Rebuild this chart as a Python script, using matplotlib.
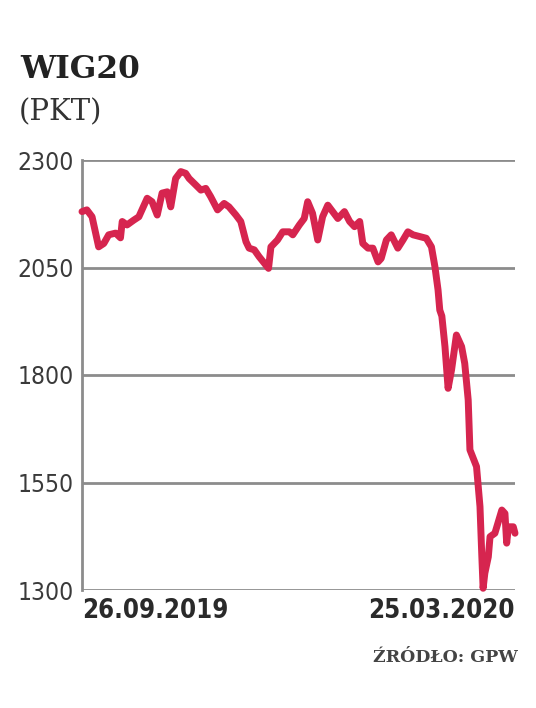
import matplotlib
matplotlib.use("Agg")
import matplotlib.pyplot as plt
from matplotlib import font_manager as fm
from matplotlib.textpath import TextPath

# trading-day index (from 26.09.2019) and WIG20 close
day = [0.1, 1.5, 3.0, 4.9, 6.4, 7.8, 9.8, 11.2, 11.7, 13.1, 15.0, 16.5, 18.9, 20.3,
       21.8, 23.2, 24.7, 25.7, 27.1, 28.6, 30.0, 31.0, 32.9, 34.4, 35.8, 37.2, 39.2,
       41.1, 42.5, 44.5, 45.9, 47.4, 48.3, 49.8, 51.2, 52.7, 53.9, 54.6, 56.5, 58.0,
       59.9, 60.9, 62.8, 64.2, 65.2, 66.6, 68.1, 69.5, 71.0, 72.4, 73.9, 75.8, 77.3,
       78.7, 80.2, 81.1, 82.6, 84.0, 85.5, 86.4, 87.9, 89.3, 91.2, 92.7, 94.1, 95.6,
       97.5, 99.4, 100.9, 101.9, 102.8, 103.3, 103.9, 104.8, 105.7, 106.7, 108.1,
       109.6, 110.5, 111.5, 112.0, 113.9, 114.9, 115.4, 115.8, 116.3, 117.3, 117.8,
       119.2, 120.2, 121.2, 122.1, 122.6, 123.1, 124.5, 125.0]
wig20 = [2180, 2184, 2168, 2098, 2106, 2126, 2130, 2119, 2157, 2149, 2160, 2168, 2211, 2203,
         2172, 2223, 2226, 2191, 2257, 2273, 2269, 2257, 2242, 2230, 2234, 2215, 2184,
         2199, 2191, 2172, 2157, 2110, 2095, 2091, 2075, 2060, 2048, 2098, 2114, 2133,
         2133, 2126, 2149, 2164, 2203, 2176, 2114, 2168, 2195, 2180, 2164, 2180, 2157,
         2145, 2157, 2106, 2095, 2095, 2063, 2071, 2114, 2126, 2095, 2114, 2133, 2126,
         2122, 2118, 2098, 2052, 1998, 1951, 1937, 1866, 1769, 1812, 1893,
         1866, 1827, 1742, 1626, 1587, 1494, 1385, 1304, 1339, 1377, 1424,
         1432, 1459, 1486, 1478, 1409, 1447, 1447, 1432]

y_ticks = [1300, 1550, 1800, 2050, 2300]
date_labels = ["26.09.2019", "25.03.2020"]
title = "WIG20"
unit = "(PKT)"
source = "ŹRÓDŁO: GPW"

LINE = "#d6254f"
GRID = "#8c8c8c"
TXT = "#3a3a3a"
SERIF = ["DejaVu Serif"]
DPI = 100


def pick_narrow(bold):
    """Find an installed condensed/narrow sans face; return FontProperties or None."""
    want_w = 700 if bold else 400
    best = None
    for f in fm.fontManager.ttflist:
        nm = f.name
        narrow = ("Narrow" in nm or "Condensed" in nm or
                  str(f.stretch) in ("condensed", "semi-condensed", "extra-condensed"))
        if not narrow or "Mono" in nm or "Serif" in nm or f.style != "normal":
            continue
        try:
            w = int(f.weight)
        except (TypeError, ValueError):
            w = 700 if "bold" in str(f.weight).lower() else 400
        score = abs(w - want_w)
        if best is None or score < best[0]:
            best = (score, f.fname)
    if best is None:
        return None
    return fm.FontProperties(fname=best[1])


def fit_size(text, fp, target_w_px, target_h_px):
    """Font size (pt) so that the text ink is about target width, capped by height."""
    ext = TextPath((0, 0), text, size=100, prop=fp).get_extents()
    px_per_unit = DPI / 72.0 / 100.0
    s_w = target_w_px / (ext.width * px_per_unit)
    s_h = target_h_px / (ext.height * px_per_unit)
    return min(s_w * 1.04, s_h)


reg = pick_narrow(False)
bld = pick_narrow(True)
ytick_fp = reg if reg is not None else fm.FontProperties(family=["Roboto", "DejaVu Sans"])
xtick_fp = bld if bld is not None else fm.FontProperties(family=["Roboto", "DejaVu Sans"],
                                                         weight="bold")
ytick_size = fit_size("2300", ytick_fp, 51, 22)
xtick_size = fit_size("26.09.2019", xtick_fp, 137, 25)

fig = plt.figure(figsize=(5.36, 7.08), dpi=DPI)
ax = fig.add_axes([82/536, 1-590/708, (515-82)/536, (590-160)/708])

ax.plot(day, wig20, color=LINE, lw=5.0, solid_joinstyle="round",
        solid_capstyle="round", clip_on=False, zorder=3)

ax.set_ylim(1300, 2300)
ax.set_xlim(day[0], day[-1])
ax.set_yticks(y_ticks)
ax.set_yticklabels([str(v) for v in y_ticks])
for v in y_ticks:
    ax.axhline(v, color=GRID, lw=2.0, zorder=1)

for s in ["top", "right", "bottom"]:
    ax.spines[s].set_visible(False)
ax.spines["left"].set_color(GRID)
ax.spines["left"].set_linewidth(2.0)

ax.tick_params(axis="y", length=0, pad=6, labelcolor=TXT)
for t in ax.get_yticklabels():
    t.set_fontproperties(ytick_fp)
    t.set_fontsize(ytick_size)

ax.set_xticks([day[0], day[-1]])
ax.set_xticklabels(date_labels)
ax.tick_params(axis="x", length=0, pad=6, labelcolor="#2a2a2a")
for t, ha in zip(ax.get_xticklabels(), ["left", "right"]):
    t.set_fontproperties(xtick_fp)
    t.set_fontsize(xtick_size)
    t.set_ha(ha)

fig.text(20/536, 1-78/708, title, family=SERIF, fontweight="bold", fontsize=22.5,
         color="#222222", ha="left", va="baseline")
fig.text(19/536, 1-120/708, unit, family=SERIF, fontsize=21,
         color="#333333", ha="left", va="baseline")
fig.text(518/536, 1-662/708, source, family=SERIF, fontweight="bold", fontsize=12.5,
         color="#444444", ha="right", va="baseline")

fig.savefig("out.png", dpi=DPI)
